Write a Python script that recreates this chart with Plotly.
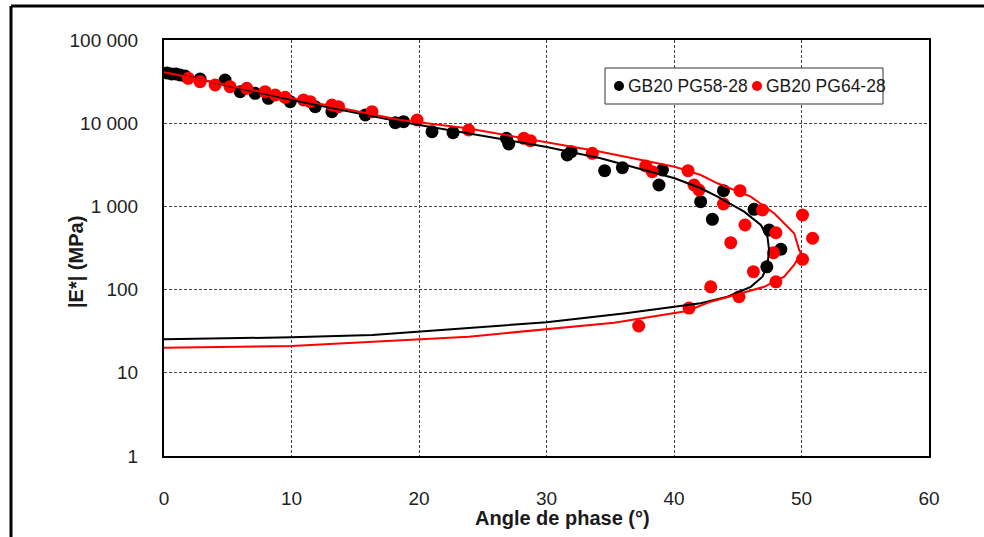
import plotly.graph_objects as go

# Measured points: phase angle (deg) and |E*| (MPa)
pg58_angle = [0.24, 0.60, 0.94, 1.26, 1.65, 2.83, 4.79, 5.97, 7.15, 8.19, 9.90, 11.86,
              13.17, 15.79, 18.14, 18.79, 21.02, 22.67, 26.86, 27.04, 31.63, 31.94,
              34.56, 35.95, 39.09, 38.82, 43.88, 42.09, 46.28, 43.01, 47.46, 48.38, 47.28]
pg58_modulus = [40100, 39000, 39000, 37950, 36900, 34000, 33050, 23920, 22870, 19920, 18130, 15790,
                13750, 12550, 10140, 10420, 7907, 7690, 6587, 5623, 4150, 4543,
                2687, 2918, 2738, 1808, 1545, 1140, 923, 700, 520, 305, 188]

pg64_angle = [1.91, 2.83, 4.01, 5.18, 6.49, 7.93, 8.72, 9.50, 10.94, 11.47, 13.17, 13.69,
              16.31, 19.85, 23.90, 28.22, 28.74, 33.59, 37.78, 38.30, 41.10, 41.57, 41.96,
              45.18, 43.88, 46.94, 50.08, 45.57, 47.99, 50.87, 44.45, 47.80, 50.08, 46.23,
              47.99, 42.88, 45.10, 41.18, 37.23]
pg64_modulus = [34660, 31550, 28780, 27480, 26260, 23920, 21830, 20480, 19010, 18130, 16550, 15790,
                13750, 10920, 8285, 6587, 6165, 4348, 3060, 2612, 2687, 1808, 1574,
                1545, 1069, 905, 788, 598, 483, 414, 366, 278, 231, 164,
                124, 108, 82, 60, 36.5]

# Model curves (Black-space fit)
pg58_fit_angle = [0, 10.03, 18.53, 23.77, 29.92, 34.24, 40.05, 42.10, 43.41, 45.50, 46.81, 47.33,
                  47.46, 47.33, 46.94, 46.02, 44.19, 42.10, 40.42, 36.2, 30.0, 16.35, 10.0, 0]
pg58_fit_modulus = [42000, 19000, 10420, 7563, 5222, 3785, 2177, 1651, 1309, 864, 598, 432,
                    299, 198, 143, 108, 82, 68.4, 63.5, 51.9, 40.5, 28.5, 26.7, 25.3]

pg64_fit_angle = [0, 10.03, 18.53, 23.77, 29.92, 34.24, 40.05, 42.10, 43.41, 46.02, 47.85, 49.42,
                  49.82, 49.95, 49.42, 48.64, 47.07, 45.24, 42.88, 41.03, 35.3, 23.9, 12.1, 10.0, 0]
pg64_fit_modulus = [41000, 20090, 10920, 8690, 5995, 4543, 3000, 2385, 1896, 1309, 826, 475,
                    299, 275, 198, 143, 108, 90.3, 71.6, 55.3, 40, 27.2, 21.6, 21, 20]

series_names = ["GB20 PG58-28", "GB20 PG64-28"]
series_colors = ["#000000", "#ff0000"]

y_tickvals = [1, 10, 100, 1000, 10000, 100000]
y_ticktext = ["1", "10", "100", "1 000", "10 000", "100 000"]

FONT = "Liberation Sans, Arial, sans-serif"

fig = go.Figure()
fig.add_trace(go.Scatter(x=pg58_angle, y=pg58_modulus, mode="markers", name=series_names[0],
                         marker=dict(color=series_colors[0], size=13, line=dict(width=0))))
fig.add_trace(go.Scatter(x=pg64_angle, y=pg64_modulus, mode="markers", name=series_names[1],
                         marker=dict(color=series_colors[1], size=13, line=dict(width=0))))
fig.add_trace(go.Scatter(x=pg58_fit_angle, y=pg58_fit_modulus, mode="lines", showlegend=False,
                         line=dict(color=series_colors[0], width=2)))
fig.add_trace(go.Scatter(x=pg64_fit_angle, y=pg64_fit_modulus, mode="lines", showlegend=False,
                         line=dict(color=series_colors[1], width=2)))

L, R, T, B = 164, 55, 40, 81
W, H = 984, 537
PW, PH = W - L - R, H - T - B


def px(xp):
    return (xp - L) / PW


def py(yp):
    return (H - B - yp) / PH


grid = dict(showgrid=True, gridcolor="#444444", griddash="3px,2px", gridwidth=1,
            showline=True, linecolor="#000000", linewidth=2, mirror=True,
            ticks="", zeroline=False,
            tickfont=dict(family=FONT, size=19, color="#222222"))

fig.update_xaxes(range=[0, 60], dtick=10, tick0=0, ticklabelstandoff=24, **grid)
fig.update_yaxes(type="log", range=[0, 5], tickvals=y_tickvals, ticktext=y_ticktext,
                 ticklabelstandoff=20, **grid)

shapes = [
    # page border lines
    dict(type="line", xref="paper", yref="paper", x0=px(11), x1=px(W + 5), y0=py(6), y1=py(6),
         line=dict(color="#000000", width=3)),
    dict(type="line", xref="paper", yref="paper", x0=px(11), x1=px(11), y0=py(6), y1=py(H + 5),
         line=dict(color="#000000", width=3)),
    # legend frame
    dict(type="rect", xref="paper", yref="paper", x0=px(605), x1=px(883), y0=py(104), y1=py(68),
         line=dict(color="#333333", width=1), fillcolor="#ffffff", layer="above"),
]
legend_dot_x = [619, 757]
legend_text_x = [626, 764]
annotations = []
for i in range(2):
    shapes.append(dict(type="circle", xref="paper", yref="paper", xsizemode="pixel", ysizemode="pixel",
                       xanchor=px(legend_dot_x[i]), yanchor=py(86), x0=-5, x1=5, y0=-5, y1=5,
                       fillcolor=series_colors[i], line=dict(width=0), layer="above"))
    annotations.append(dict(text=series_names[i], xref="paper", yref="paper", x=px(legend_text_x[i]),
                            y=py(86), xanchor="left", yanchor="middle", showarrow=False,
                            font=dict(family=FONT, size=17.5, color="#1a1a1a")))

annotations.append(dict(text="<b>Angle de phase (°)</b>", xref="paper", yref="paper",
                        x=px(562), y=py(518), xanchor="center", yanchor="middle", showarrow=False,
                        font=dict(family=FONT, size=20, color="#1a1a1a")))
annotations.append(dict(text="<b>|E*| (MPa)</b>", xref="paper", yref="paper",
                        x=px(76), y=py(262), xanchor="center", yanchor="middle", showarrow=False,
                        textangle=-90, font=dict(family=FONT, size=20, color="#1a1a1a")))

fig.update_layout(width=W, height=H, margin=dict(l=L, r=R, t=T, b=B),
                  paper_bgcolor="#ffffff", plot_bgcolor="#ffffff", showlegend=False,
                  font=dict(family=FONT), shapes=shapes, annotations=annotations)

fig.write_html("out.html")
